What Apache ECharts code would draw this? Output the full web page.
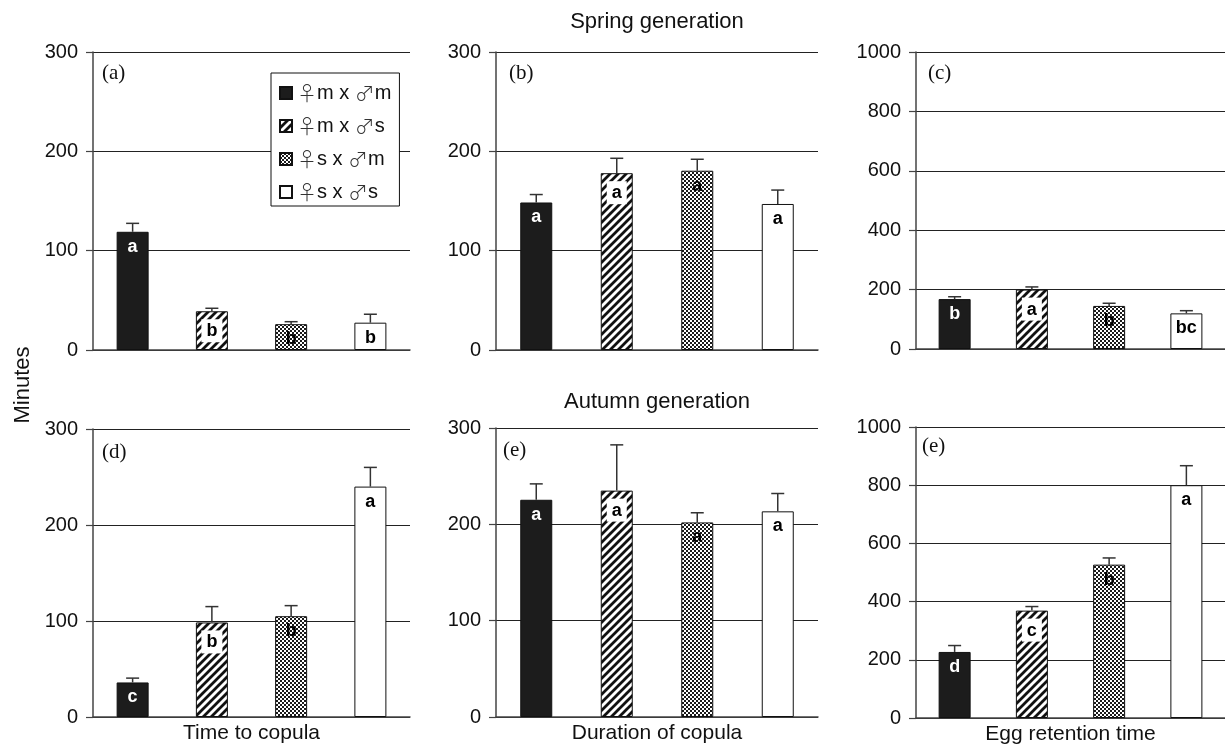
<!DOCTYPE html>
<html>
<head>
<meta charset="utf-8">
<script src="https://cdn.jsdelivr.net/npm/echarts@6/dist/echarts.min.js"></script>
<style>html,body{margin:0;padding:0;background:#fff;}#chart{width:1225px;height:746px;}</style>
</head>
<body>
<div id="chart"></div>
<script>
// ---------- data ----------
const GROUPS = ['♀m x ♂m', '♀m x ♂s', '♀s x ♂m', '♀s x ♂s'];
const CATEGORIES = ['mm', 'ms', 'sm', 'ss'];
const PANEL_LABELS = ['(a)', '(b)', '(c)', '(d)', '(e)', '(e)'];
const X_NAMES = ['', '', '', 'Time to copula', 'Duration of copula', 'Egg retention time'];
const Y_MAX = [300, 300, 1000, 300, 300, 1000];
const Y_INTERVAL = [100, 100, 200, 100, 100, 200];

// Spring generation
const MEANS_A = [119, 39, 26, 27.5];
const ERR_A = [8.5, 3, 2.5, 8.5];
const LETTERS_A = ['a', 'b', 'b', 'b'];
const MEANS_B = [148.5, 178, 180.5, 147];
const ERR_B = [8, 15, 11.5, 14];
const LETTERS_B = ['a', 'a', 'a', 'a'];
const MEANS_C = [168, 200, 145, 120];
const ERR_C = [8, 9, 9, 9];
const LETTERS_C = ['b', 'a', 'b', 'bc'];
// Autumn generation
const MEANS_D = [36, 98.5, 105, 240];
const ERR_D = [4.5, 16.5, 11, 20];
const LETTERS_D = ['c', 'b', 'b', 'a'];
const MEANS_E = [225.5, 235, 202, 213.5];
const ERR_E = [16.5, 47.5, 10, 18.5];
const LETTERS_E = ['a', 'a', 'a', 'a'];
const MEANS_F = [227, 369, 527, 800];
const ERR_F = [22, 14, 23, 67];
const LETTERS_F = ['d', 'c', 'b', 'a'];

const MEANS = [MEANS_A, MEANS_B, MEANS_C, MEANS_D, MEANS_E, MEANS_F];
const ERRS = [ERR_A, ERR_B, ERR_C, ERR_D, ERR_E, ERR_F];
const LETTERS = [LETTERS_A, LETTERS_B, LETTERS_C, LETTERS_D, LETTERS_E, LETTERS_F];

// ---------- patterns ----------
function stripeCanvas() {
  const c = document.createElement('canvas'); c.width = 8; c.height = 8;
  const ctx = c.getContext('2d');
  ctx.fillStyle = '#fff'; ctx.fillRect(0, 0, 8, 8);
  ctx.strokeStyle = '#111'; ctx.lineWidth = 2.8; ctx.lineCap = 'square';
  ctx.beginPath();
  ctx.moveTo(-2, 2); ctx.lineTo(2, -2);
  ctx.moveTo(0, 8); ctx.lineTo(8, 0);
  ctx.moveTo(6, 10); ctx.lineTo(10, 6);
  ctx.stroke();
  return c;
}
function checkerCanvas() {
  const c = document.createElement('canvas'); c.width = 4; c.height = 4;
  const ctx = c.getContext('2d');
  ctx.fillStyle = '#fff'; ctx.fillRect(0, 0, 4, 4);
  ctx.fillStyle = '#1a1a1a';
  ctx.fillRect(0, 0, 2, 2); ctx.fillRect(2, 2, 2, 2);
  return c;
}
const FILLS = [
  '#1c1c1c',
  { image: stripeCanvas(), repeat: 'repeat' },
  { image: checkerCanvas(), repeat: 'repeat' },
  '#ffffff'
];
const LABEL_STYLES = [
  { color: '#fff' },
  { color: '#000', backgroundColor: '#fff', padding: [3, 5, 2, 5], distance: 8 },
  { color: '#000' },
  { color: '#000' }
];

// ---------- layout ----------
const GRIDS = [
  { left: 93, top: 52, width: 317, height: 298 },
  { left: 496, top: 52, width: 322, height: 298 },
  { left: 916, top: 52, width: 311, height: 297 },
  { left: 93, top: 429, width: 317, height: 288 },
  { left: 496, top: 428, width: 322, height: 289 },
  { left: 916, top: 427, width: 311, height: 291 }
];
const PANEL_LABEL_POS = [[102, 73], [509, 73], [928, 73], [102, 452], [503, 450], [922, 446]];
const FONT = "'Liberation Sans', Arial, Helvetica, sans-serif";
const SERIF = "'Liberation Serif', 'Times New Roman', serif";

const xAxes = [], yAxes = [], series = [];
for (let p = 0; p < 6; p++) {
  xAxes.push({
    type: 'category', gridIndex: p, data: CATEGORIES,
    axisLine: { show: true, lineStyle: { color: '#444', width: 1.5 } },
    axisTick: { show: false }, axisLabel: { show: false },
    name: X_NAMES[p], nameLocation: 'middle', nameGap: 6,
    nameTextStyle: { fontFamily: FONT, fontSize: 21, color: '#111', verticalAlign: 'top' }
  });
  yAxes.push({
    type: 'value', gridIndex: p, min: 0, max: Y_MAX[p], interval: Y_INTERVAL[p],
    axisLine: { show: true, lineStyle: { color: '#444', width: 1.5 } },
    axisTick: { show: true, length: 7, lineStyle: { color: '#444', width: 1.2 } },
    axisLabel: { fontFamily: FONT, fontSize: 20, color: '#111', margin: 15, formatter: v => String(v) },
    splitLine: { show: true, lineStyle: { color: '#222', width: 1 } }
  });
  for (let g = 0; g < 4; g++) {
    const data = CATEGORIES.map((c, i) => (i === g ? MEANS[p][i] : '-'));
    const ls = LABEL_STYLES[g];
    series.push({
      type: 'bar', name: GROUPS[g], xAxisIndex: p, yAxisIndex: p,
      data: data, barWidth: 32, barGap: '-100%',
      itemStyle: { color: FILLS[g], borderColor: '#111', borderWidth: 1 },
      label: Object.assign({
        show: true, position: 'insideTop', distance: 6,
        formatter: LETTERS[p][g], fontFamily: FONT, fontWeight: 'bold', fontSize: 18
      }, ls),
      emphasis: { disabled: true },
      animation: false
    });
  }
  series.push({
    type: 'custom', xAxisIndex: p, yAxisIndex: p, z: 5,
    data: MEANS[p].map((m, i) => [i, m, ERRS[p][i]]),
    encode: { x: 0, y: 1 },
    renderItem: function (params, api) {
      const c = api.value(0), m = api.value(1), e = api.value(2);
      const p0 = api.coord([c, m]);
      const p1 = api.coord([c, m + e]);
      const hw = 6.5;
      const st = { stroke: '#333', lineWidth: 1.5 };
      return {
        type: 'group', children: [
          { type: 'line', shape: { x1: p0[0], y1: p0[1], x2: p1[0], y2: p1[1] }, style: st },
          { type: 'line', shape: { x1: p1[0] - hw, y1: p1[1], x2: p1[0] + hw, y2: p1[1] }, style: st }
        ]
      };
    },
    animation: false, silent: true
  });
}

const graphics = [];
function txt(text, x, y, font, rotation) {
  return {
    type: 'text', x: x, y: y, rotation: rotation || 0, silent: true,
    style: { text: text, font: font, fill: '#111', textAlign: 'center', textVerticalAlign: 'middle', align: 'center', verticalAlign: 'middle' }
  };
}
graphics.push(txt('Spring generation', 657, 22, '22px ' + FONT));
graphics.push(txt('Autumn generation', 657, 402, '22px ' + FONT));
graphics.push(txt('Minutes', 23, 385, '22px ' + FONT, Math.PI / 2));
for (let p = 0; p < 6; p++) {
  const t = txt(PANEL_LABELS[p], PANEL_LABEL_POS[p][0], PANEL_LABEL_POS[p][1], '21px ' + SERIF);
  t.style.textAlign = 'left'; t.style.align = 'left';
  graphics.push(t);
}

const chart = echarts.init(document.getElementById('chart'), null, { renderer: 'canvas' });
chart.setOption({
  animation: false,
  backgroundColor: '#fff',
  grid: GRIDS,
  xAxis: xAxes,
  yAxis: yAxes,
  legend: {
    data: GROUPS.map(n => ({ name: n, icon: 'rect' })),
    orient: 'vertical', left: 271, top: 73,
    padding: [9, 8, 3, 8], itemGap: 11, itemWidth: 12, itemHeight: 12, itemTextGap: 5,
    backgroundColor: '#fff', borderColor: '#111', borderWidth: 1,
    formatter: n => n.replace(/♀/g, '{s|♀}').replace(/♂/g, '{s|♂}'),
    textStyle: {
      fontFamily: FONT, fontSize: 20, color: '#111', lineHeight: 22,
      rich: { s: { fontFamily: "'Noto Sans CJK JP', 'DejaVu Sans', sans-serif", fontSize: 20, fontWeight: 300, color: '#333', lineHeight: 22 } }
    },
    selectedMode: false
  },
  series: series,
  graphic: graphics
});
</script>
</body>
</html>
